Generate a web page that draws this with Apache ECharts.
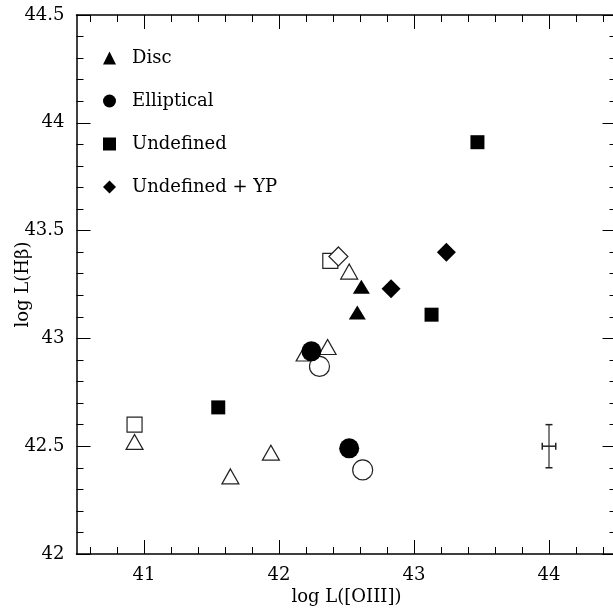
<!DOCTYPE html>
<html>
<head>
<meta charset="utf-8">
<script src="https://cdn.jsdelivr.net/npm/echarts@6/dist/echarts.min.js"></script>
<style>
  html, body { margin: 0; padding: 0; background: #fff; }
  #chart { width: 613px; height: 614px; }
</style>
</head>
<body>
<div id="chart"></div>
<script>
// points as [log L([OIII]), log L(Hbeta)]
const discFilled = [[42.61, 43.24], [42.58, 43.12]];
const discOpen = [[42.52, 43.31], [42.36, 42.96], [42.19, 42.93], [40.93, 42.52], [41.94, 42.47], [41.64, 42.36]];
const ellFilled = [[42.24, 42.94], [42.52, 42.49]];
const ellOpen = [[42.30, 42.87], [42.62, 42.39]];
const undFilled = [[43.47, 43.91], [43.13, 43.11], [41.55, 42.68]];
const undOpen = [[42.38, 43.36], [40.93, 42.60]];
const ypFilled = [[43.24, 43.40], [42.83, 43.23]];
const ypOpen = [[42.44, 43.38]];
// typical error: [x, y, xerr, yerr]
const errBar = [[44.0, 42.5, 0.05, 0.1]];

const legendNames = ['Disc', 'Elliptical', 'Undefined', 'Undefined + YP'];
const xMajorTicks = [41, 42, 43, 44];
const xMinorTicks = [40.6, 40.8, 41.2, 41.4, 41.6, 41.8, 42.2, 42.4, 42.6, 42.8,
                     43.2, 43.4, 43.6, 43.8, 44.2, 44.4];

const font = 'DejaVu Serif';
let chart = echarts.init(document.getElementById('chart'));

function xAx(pos, ticks, len, main) {
    return {
        type: 'value', position: pos, min: 40.5, max: 44.5,
        axisLine: {show: main, onZero: false, lineStyle: {color: '#000', width: 1.5}},
        axisTick: {show: true, inside: true, length: len, customValues: ticks,
                   lineStyle: {color: '#000', width: 1}},
        axisLabel: {show: main && pos === 'bottom', customValues: ticks, margin: 12,
                    color: '#000', fontFamily: font, fontSize: 18},
        splitLine: {show: false}
    };
}

function yAx(pos) {
    return {
        type: 'value', position: pos, min: 42, max: 44.5, interval: 0.5,
        axisLine: {show: true, onZero: false, lineStyle: {color: '#000', width: 1.5}},
        axisTick: {show: true, inside: true, length: 14, lineStyle: {color: '#000', width: 1}},
        minorTick: {show: true, splitNumber: 5, length: 7, lineStyle: {color: '#000', width: 1}},
        axisLabel: {show: pos === 'left', margin: 12, color: '#000', fontFamily: font, fontSize: 18},
        splitLine: {show: false}
    };
}

function openSeries(name, data, symbol, size) {
    return {
        name: name, type: 'scatter', data: data, symbol: symbol, symbolSize: size,
        itemStyle: {color: '#fff', borderColor: '#222', borderWidth: 1.2, opacity: 1},
        emphasis: {disabled: true}
    };
}
function filledSeries(name, data, symbol, size) {
    return {
        name: name, type: 'scatter', data: data, symbol: symbol, symbolSize: size,
        itemStyle: {color: '#000', opacity: 1},
        emphasis: {disabled: true}
    };
}

let xBottom = xAx('bottom', xMajorTicks, 14, true);
xBottom.name = 'log L([OIII])';
xBottom.nameLocation = 'middle';
xBottom.nameGap = 34;
xBottom.nameMoveOverlap = false;
xBottom.nameTextStyle = {color: '#000', fontFamily: font, fontSize: 18};

let yLeft = yAx('left');
yLeft.name = 'log L(Hβ)';
yLeft.nameLocation = 'middle';
yLeft.nameGap = 44;
yLeft.nameMoveOverlap = false;
yLeft.nameTextStyle = {color: '#000', fontFamily: font, fontSize: 18};

chart.setOption({
    backgroundColor: '#fff',
    animation: false,
    grid: {left: 76.5, top: 15, width: 540, height: 539, containLabel: false, outerBoundsMode: 'none'},
    legend: {
        data: legendNames, orient: 'vertical', left: 98, top: 44,
        itemWidth: 13, itemHeight: 13, itemGap: 25, selectedMode: false,
        textStyle: {color: '#000', fontFamily: font, fontSize: 18, lineHeight: 18,
                    padding: [0, 0, 0, 11]}
    },
    xAxis: [
        xBottom,
        xAx('bottom', xMinorTicks, 7, false),
        xAx('top', xMajorTicks, 14, true),
        xAx('top', xMinorTicks, 7, false)
    ],
    yAxis: [yLeft, yAx('right')],
    series: [
        openSeries('Undefined open', undOpen, 'rect', 15),
        openSeries('Disc open', discOpen, 'triangle', [17, 15]),
        openSeries('Undefined + YP open', ypOpen, 'diamond', 19),
        openSeries('Elliptical open', ellOpen, 'circle', 20),
        filledSeries('Disc', discFilled, 'triangle', [17, 14]),
        filledSeries('Elliptical', ellFilled, 'circle', 20),
        filledSeries('Undefined', undFilled, 'rect', 14),
        filledSeries('Undefined + YP', ypFilled, 'diamond', 19),
        {
            type: 'custom', name: 'error', data: errBar,
            renderItem: function (params, api) {
                let x = api.value(0), y = api.value(1), dx = api.value(2), dy = api.value(3);
                let top = api.coord([x, y + dy]);
                let bot = api.coord([x, y - dy]);
                let l = api.coord([x - dx, y]);
                let r = api.coord([x + dx, y]);
                let dark = {stroke: '#222', lineWidth: 1.5};
                return {
                    type: 'group',
                    children: [
                        {type: 'line', shape: {x1: top[0], y1: top[1], x2: bot[0], y2: bot[1]},
                         style: {stroke: '#808080', lineWidth: 2}},
                        {type: 'line', shape: {x1: top[0] - 3.5, y1: top[1], x2: top[0] + 3.5, y2: top[1]}, style: dark},
                        {type: 'line', shape: {x1: bot[0] - 3.5, y1: bot[1], x2: bot[0] + 3.5, y2: bot[1]}, style: dark},
                        {type: 'line', shape: {x1: l[0], y1: l[1], x2: r[0], y2: r[1]}, style: dark},
                        {type: 'line', shape: {x1: l[0], y1: l[1] - 3.5, x2: l[0], y2: l[1] + 3.5}, style: dark},
                        {type: 'line', shape: {x1: r[0], y1: r[1] - 3.5, x2: r[0], y2: r[1] + 3.5}, style: dark}
                    ]
                };
            }
        }
    ]
});
</script>
</body>
</html>
